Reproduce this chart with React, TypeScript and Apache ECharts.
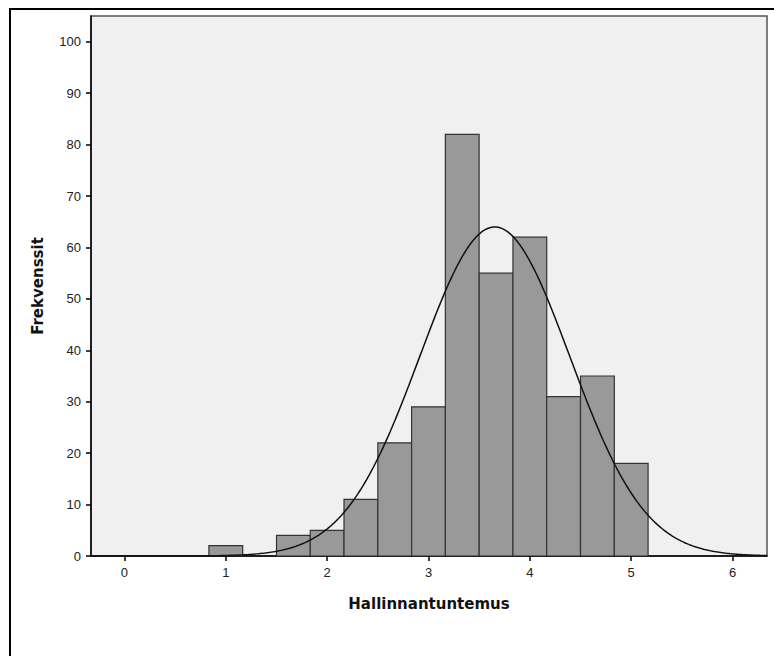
import React, { useEffect, useRef } from "react";
import * as echarts from "echarts";

// Histogram bins (centre of each bin, width 1/3) and their frequencies
const binCenters = [1, 1.333, 1.667, 2, 2.333, 2.667, 3, 3.333, 3.667, 4, 4.333, 4.667, 5];
const frequencies = [2, 0, 4, 5, 11, 22, 29, 82, 55, 62, 31, 35, 18];
const binWidth = 1 / 3;

// Summary statistics for the fitted normal curve
const sampleMean = 3.654;
const sampleSd = 0.74;
const sampleN = 356;

const xTicks = [0, 1, 2, 3, 4, 5, 6];
const yTicks = [0, 10, 20, 30, 40, 50, 60, 70, 80, 90, 100];
const xMin = -0.33;
const xMax = 6.34;
const yMax = 105;

function normalCurve(): number[][] {
  const pts: number[][] = [];
  const scale = (sampleN * binWidth) / (sampleSd * Math.sqrt(2 * Math.PI));
  const steps = 400;
  for (let i = 0; i <= steps; i++) {
    const x = xMin + ((xMax - xMin) * i) / steps;
    const z = (x - sampleMean) / sampleSd;
    pts.push([x, scale * Math.exp(-0.5 * z * z)]);
  }
  return pts;
}

export default function App() {
  const ref = useRef<HTMLDivElement>(null);

  useEffect(() => {
    if (!ref.current) return;
    const chart = echarts.init(ref.current, undefined, { renderer: "svg" });
    const barData = binCenters
      .map((c, i) => [c, frequencies[i]])
      .filter((d) => d[1] > 0);

    chart.setOption({
      animation: false,
      backgroundColor: "#ffffff",
      grid: {
        left: 91,
        top: 16,
        right: 7,
        bottom: 100,
        show: true,
        backgroundColor: "#f0f0f0",
        borderColor: "#555555",
        borderWidth: 1.5,
      },
      graphic: [
        {
          type: "rect",
          shape: { x: 10, y: 9, width: 800, height: 700 },
          style: { fill: "none", stroke: "#000000", lineWidth: 2 },
          silent: true,
        },
      ],
      xAxis: {
        type: "value",
        min: xMin,
        max: xMax,
        name: "Hallinnantuntemus",
        nameLocation: "middle",
        nameGap: 40,
        nameTextStyle: {
          fontFamily: "DejaVu Sans",
          fontWeight: "bold",
          fontSize: 15,
          color: "#111111",
        },
        axisLine: { show: true, onZero: false, lineStyle: { color: "#000000", width: 1.5 } },
        axisTick: {
          show: true,
          customValues: xTicks,
          length: 5,
          lineStyle: { color: "#000000", width: 1.5 },
        },
        axisLabel: {
          customValues: xTicks,
          margin: 10,
          fontFamily: "Liberation Sans",
          fontSize: 13,
          color: "#222222",
        },
        splitLine: { show: false },
      },
      yAxis: {
        type: "value",
        min: 0,
        max: yMax,
        name: "Frekvenssit",
        nameLocation: "middle",
        nameRotate: 90,
        nameGap: 46,
        nameTextStyle: {
          fontFamily: "DejaVu Sans",
          fontWeight: "bold",
          fontSize: 15,
          color: "#111111",
        },
        axisLine: { show: true, onZero: false, lineStyle: { color: "#000000", width: 1.5 } },
        axisTick: {
          show: true,
          customValues: yTicks,
          length: 5,
          lineStyle: { color: "#000000", width: 1.5 },
        },
        axisLabel: {
          customValues: yTicks,
          margin: 10,
          fontFamily: "Liberation Sans",
          fontSize: 13,
          color: "#222222",
        },
        splitLine: { show: false },
      },
      series: [
        {
          type: "custom",
          clip: true,
          data: barData,
          renderItem: (params: any, api: any) => {
            const c = api.value(0);
            const v = api.value(1);
            const p0 = api.coord([c - binWidth / 2, v]);
            const p1 = api.coord([c + binWidth / 2, 0]);
            return {
              type: "rect",
              shape: { x: p0[0], y: p0[1], width: p1[0] - p0[0], height: p1[1] - p0[1] },
              style: { fill: "#999999", stroke: "#333333", lineWidth: 1.2 },
            };
          },
          z: 2,
        },
        {
          type: "line",
          data: normalCurve(),
          showSymbol: false,
          symbol: "none",
          smooth: false,
          lineStyle: { color: "#111111", width: 1.5 },
          z: 3,
        },
      ],
    });

    return () => chart.dispose();
  }, []);

  return (
    <div
      ref={ref}
      style={{ position: "fixed", left: 0, top: 0, width: 774, height: 656 }}
    />
  );
}
